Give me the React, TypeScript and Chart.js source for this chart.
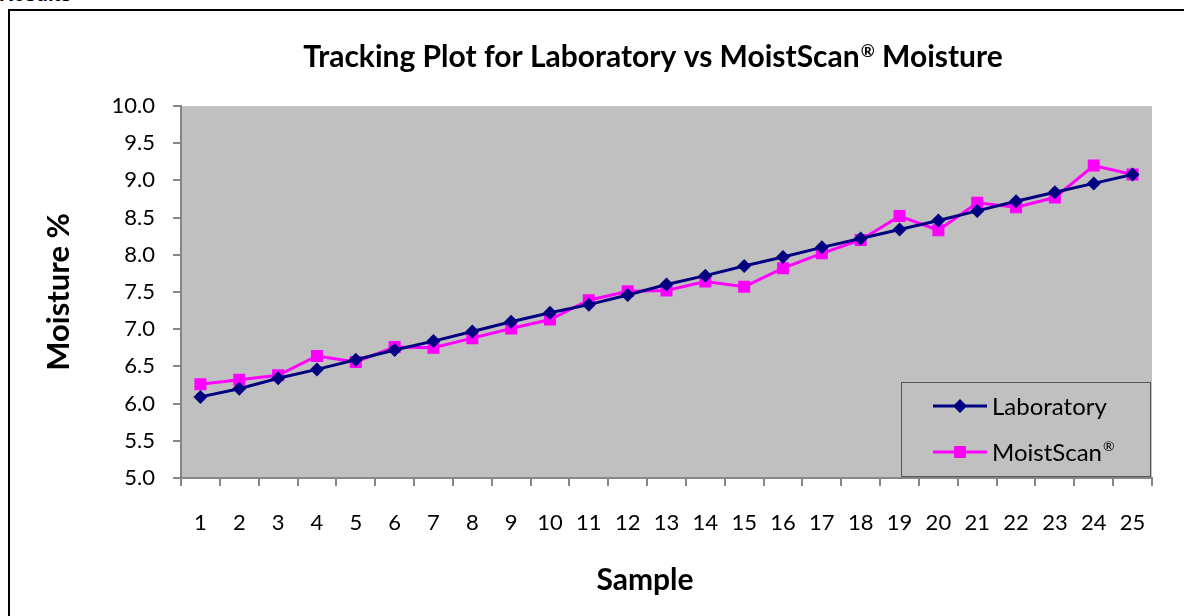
import React, { useEffect, useRef } from 'react';
import { Chart, registerables } from 'chart.js';

Chart.register(...registerables);

const samples = ['1', '2', '3', '4', '5', '6', '7', '8', '9', '10', '11', '12', '13', '14', '15', '16', '17', '18', '19', '20', '21', '22', '23', '24', '25'];
const laboratory = [6.09, 6.2, 6.34, 6.46, 6.59, 6.72, 6.84, 6.97, 7.1, 7.22, 7.33, 7.46, 7.6, 7.72, 7.85, 7.97, 8.1, 8.22, 8.34, 8.46, 8.59, 8.72, 8.84, 8.96, 9.08];
const moistScan = [6.26, 6.32, 6.38, 6.64, 6.56, 6.76, 6.75, 6.88, 7.01, 7.13, 7.39, 7.51, 7.52, 7.64, 7.57, 7.82, 8.02, 8.2, 8.52, 8.33, 8.7, 8.64, 8.77, 9.2, 9.08];
const seriesNames = ['Laboratory', 'MoistScan'];
const titleParts = ['Tracking Plot for Laboratory vs MoistScan', '®', ' Moisture'];
const yTitle = 'Moisture %';
const xTitle = 'Sample';

const FONT = 'Lato, "Open Sans", sans-serif';
const GRAY_AXIS = '#868686';

const plotBg = {
  id: 'plotBg',
  beforeDraw(chart: any) {
    const { ctx, chartArea } = chart;
    ctx.save();
    ctx.fillStyle = '#C0C0C0';
    ctx.fillRect(chartArea.left, chartArea.top, chartArea.right - chartArea.left, chartArea.bottom - chartArea.top);
    ctx.restore();
  },
};

const textPlugin = {
  id: 'richTitle',
  afterDraw(chart: any) {
    const ctx = chart.ctx;
    ctx.save();
    ctx.fillStyle = '#000';
    ctx.textBaseline = 'alphabetic';
    const big = 'bold 30px ' + FONT;
    const small = 'bold 17px ' + FONT;
    ctx.font = big;
    const w0 = ctx.measureText(titleParts[0]).width;
    const w2 = ctx.measureText(titleParts[2]).width;
    ctx.font = small;
    const w1 = ctx.measureText(titleParts[1]).width;
    const total = w0 + w1 + 1 + w2;
    const cx = 653;
    const base = 67;
    let x = cx - total / 2;
    ctx.textAlign = 'left';
    ctx.font = big;
    ctx.fillText(titleParts[0], x, base);
    x += w0 + 1;
    ctx.font = small;
    ctx.fillText(titleParts[1], x, base - 10);
    x += w1;
    ctx.font = big;
    ctx.fillText(titleParts[2], x, base);

    ctx.textAlign = 'center';
    ctx.font = 'bold 30px ' + FONT;
    ctx.fillText(xTitle, 645, 590);
    ctx.restore();
  },
};

const legendPlugin = {
  id: 'boxLegend',
  afterDraw(chart: any) {
    const ctx = chart.ctx;
    const bx = 901, by = 382, bw = 249, bh = 94;
    ctx.save();
    ctx.fillStyle = '#C0C0C0';
    ctx.fillRect(bx, by, bw, bh);
    ctx.strokeStyle = '#555555';
    ctx.lineWidth = 1;
    ctx.strokeRect(bx + 0.5, by + 0.5, bw, bh);
    const rows = [406, 452];
    chart.data.datasets.forEach((ds: any, i: number) => {
      const y = rows[i];
      ctx.strokeStyle = ds.borderColor;
      ctx.lineWidth = 3;
      ctx.beginPath();
      ctx.moveTo(933, y);
      ctx.lineTo(987, y);
      ctx.stroke();
      ctx.fillStyle = ds.pointBackgroundColor;
      const cx = 960;
      if (ds.pointStyle === 'rectRot') {
        const r = 7;
        ctx.beginPath();
        ctx.moveTo(cx, y - r);
        ctx.lineTo(cx + r, y);
        ctx.lineTo(cx, y + r);
        ctx.lineTo(cx - r, y);
        ctx.closePath();
        ctx.fill();
      } else {
        ctx.fillRect(cx - 6, y - 6, 12, 12);
      }
      ctx.fillStyle = '#000';
      ctx.textBaseline = 'middle';
      ctx.textAlign = 'left';
      ctx.font = '24px ' + FONT;
      ctx.fillText(seriesNames[i], 992, y + 1);
      if (i === 1) {
        const w = ctx.measureText(seriesNames[i]).width;
        ctx.font = '14px ' + FONT;
        ctx.fillText('®', 992 + w + 1, y - 6);
      }
    });
    ctx.restore();
  },
};

export default function App() {
  const ref = useRef<HTMLCanvasElement | null>(null);

  useEffect(() => {
    if (!ref.current) return;
    const chart = new Chart(ref.current, {
      type: 'line',
      data: {
        labels: samples,
        datasets: [
          {
            label: seriesNames[0],
            data: laboratory,
            borderColor: '#000080',
            backgroundColor: '#000080',
            pointBackgroundColor: '#000080',
            pointBorderColor: '#000080',
            pointStyle: 'rectRot',
            pointRadius: 7,
            pointBorderWidth: 0,
            borderWidth: 3,
            tension: 0,
          },
          {
            label: seriesNames[1] + '®',
            data: moistScan,
            borderColor: '#FF00FF',
            backgroundColor: '#FF00FF',
            pointBackgroundColor: '#FF00FF',
            pointBorderColor: '#FF00FF',
            pointStyle: 'rect',
            pointRadius: 8.5,
            pointBorderWidth: 0,
            borderWidth: 3,
            tension: 0,
          },
        ],
      },
      options: {
        animation: false,
        responsive: false,
        devicePixelRatio: 1,
        layout: { padding: { top: 106, right: 32, left: 0, bottom: 0 } },
        plugins: {
          legend: { display: false },
          title: { display: false },
          tooltip: { enabled: false },
        },
        scales: {
          x: {
            type: 'category',
            offset: true,
            afterFit: (s: any) => { s.height = 138; },
            grid: { offset: true, drawOnChartArea: false, drawTicks: true, tickLength: 8, color: GRAY_AXIS, lineWidth: 2 },
            border: { display: true, color: GRAY_AXIS, width: 2 },
            ticks: { color: '#000', font: { family: FONT, size: 22 }, padding: 24, maxRotation: 0, autoSkip: false },
          },
          y: {
            min: 5,
            max: 10,
            afterFit: (s: any) => { s.width = 181; },
            grid: { drawOnChartArea: false, drawTicks: true, tickLength: 8, color: GRAY_AXIS, lineWidth: 2 },
            border: { display: true, color: GRAY_AXIS, width: 2 },
            ticks: { stepSize: 0.5, color: '#000', font: { family: FONT, size: 22 }, padding: 18, callback: (v: any) => Number(v).toFixed(1) },
            title: { display: true, text: yTitle, color: '#000', font: { family: FONT, size: 31, weight: 'bold' }, padding: { top: 40, bottom: 0 } },
          },
        },
      },
      plugins: [plotBg, textPlugin, legendPlugin],
    } as any);
    return () => chart.destroy();
  }, []);

  return (
    <>
      <div style={{ position: 'absolute', left: -1, top: -16, font: 'bold 20px Arial, "Liberation Sans", sans-serif', lineHeight: '20px', color: '#000', whiteSpace: 'nowrap' }}>Results</div>
      <div style={{ position: 'absolute', left: 8, top: 9, width: 1176, height: 607, boxSizing: 'border-box', borderLeft: '2px solid #000', borderTop: '2px solid #000' }} />
      <canvas ref={ref} width={1184} height={616} style={{ position: 'absolute', left: 0, top: 0, width: 1184, height: 616 }} />
    </>
  );
}
